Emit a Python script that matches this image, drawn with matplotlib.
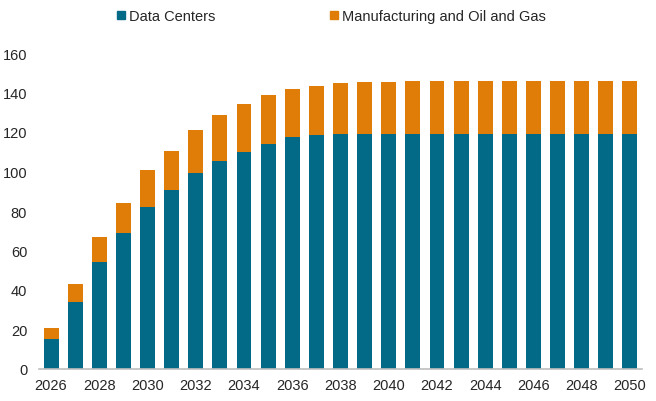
import matplotlib
matplotlib.use("Agg")
import matplotlib.pyplot as plt
from matplotlib.patches import Patch
import numpy as np

years = list(range(2026, 2051))
data_centers = [15, 34, 54, 69, 82, 90.5, 99, 105.5, 110, 114, 117.5, 118.5, 119, 119, 119, 119, 119, 119, 119, 119, 119, 119, 119, 119, 119]
manufacturing_oil_gas = [6, 9, 13, 15, 19, 20, 22, 23, 24, 24.5, 24.5, 25, 26, 26.5, 26.5, 27, 27, 27, 27, 27, 27, 27, 27, 27, 27]
tick_years = list(range(2026, 2051, 2))

teal = "#026A86"
orange = "#E07D08"

plt.rcParams['font.family'] = ['Liberation Sans', 'DejaVu Sans']

fig = plt.figure(figsize=(6.56, 4.02), dpi=100)
ax = fig.add_axes([39/656, 1 - 370/402, (642 - 39)/656, (370 - 54)/402])

x = np.arange(len(years))
ax.bar(x, data_centers, width=0.62, color=teal, label="Data Centers")
ax.bar(x, manufacturing_oil_gas, width=0.62, bottom=data_centers, color=orange,
       label="Manufacturing and Oil and Gas")

ax.set_xlim(-0.5, len(years) - 0.5)
ax.set_ylim(0, 160)
ax.set_yticks(range(0, 161, 20))
ax.set_xticks([years.index(y) for y in tick_years])
ax.set_xticklabels([str(y) for y in tick_years])
for s in ["top", "right", "left"]:
    ax.spines[s].set_visible(False)
ax.spines["bottom"].set_color("#BFBFBF")
ax.spines["bottom"].set_linewidth(1.2)
ax.tick_params(axis="both", length=0, labelsize=10.5, labelcolor="#262626")
ax.tick_params(axis="y", pad=8.5)
ax.tick_params(axis="x", pad=6.5)

handles = [Patch(color=teal), Patch(color=orange)]
fig.legend(handles, ["Data Centers", "Manufacturing and Oil and Gas"],
           loc="center", bbox_to_anchor=(0.505, 1 - 17/402), ncol=2, frameon=False,
           fontsize=10.5, handlelength=0.55, handleheight=0.5, handletextpad=0.25,
           columnspacing=7.9, labelcolor="#262626")

fig.savefig("out.png", dpi=100)
